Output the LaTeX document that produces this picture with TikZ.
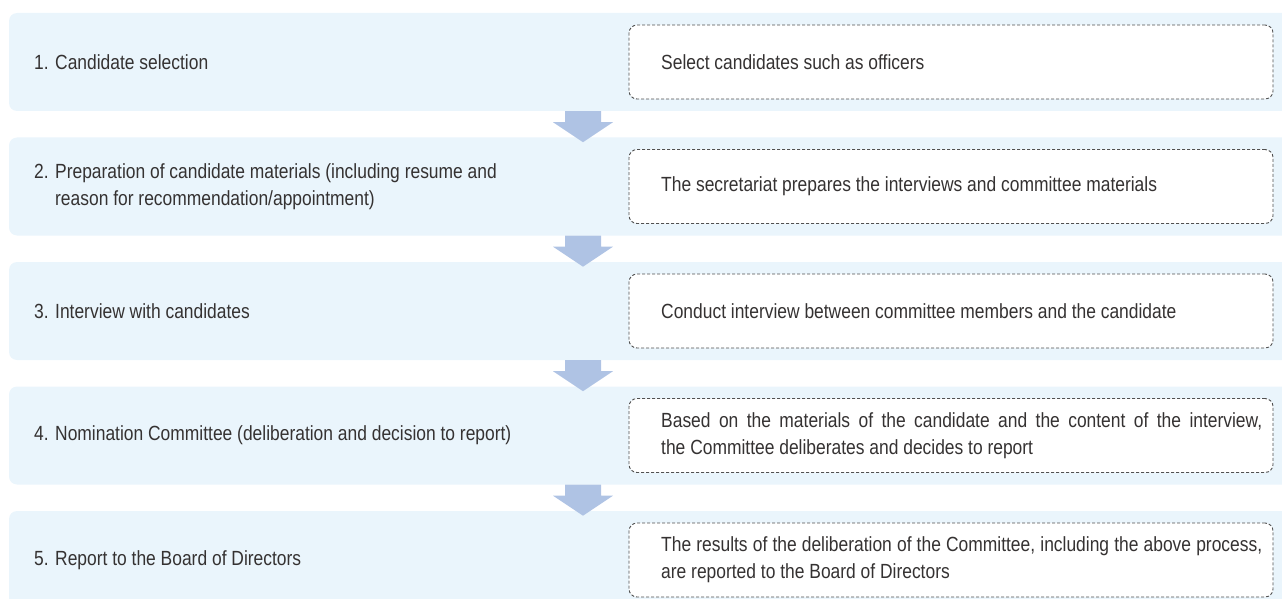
\documentclass[tikz,border=0pt]{standalone}
\usepackage{fontspec}
\setmainfont{Liberation Sans}[FakeStretch=0.85]
\usetikzlibrary{calc}
\definecolor{panelc}{HTML}{EAF5FC}
\definecolor{arrowc}{HTML}{AFC3E4}
\definecolor{txtc}{HTML}{353232}
\definecolor{dashc}{HTML}{505050}
\tikzset{
  panel/.style={fill=panelc, draw=none, rounded corners=8pt, minimum width=1291pt, minimum height=98pt, inner sep=0pt},
  notebox/.style={fill=white, draw=dashc, line width=0.9pt, dash pattern=on 3pt off 2pt, rounded corners=8pt, minimum width=644pt, minimum height=74pt, inner sep=0pt},
  lefttxt/.style={anchor=west, inner sep=0pt, align=left, text=txtc, font=\fontsize{20.5}{27}\selectfont},
  righttxt/.style={anchor=west, inner sep=0pt, text width=601pt, align=justify, text=txtc, font=\fontsize{20.5}{27}\selectfont},
  flowarrow/.style={fill=arrowc, draw=none}
}
\begin{document}
\begin{tikzpicture}[x=1pt, y=-1pt]
\useasboundingbox (0,0) rectangle (1282,599);
% panels
\foreach \i in {1,...,5}{
  \node[panel] (p\i) at (654.5, {62+124.5*(\i-1)}) {};
}
% arrows between panels
\foreach \i in {1,...,4}{
  \coordinate (a\i) at ($(p\i.south)+(-71.5,0)$);
  \fill[flowarrow] ($(a\i)+(-18,0)$) -- ++(36,0) -- ++(0,11) -- ++(12,0) -- ++(-30,20) -- ++(-30,-20) -- ++(12,0) -- cycle;
}
% dashed boxes
\foreach \i in {1,...,5}{
  \node[notebox] (b\i) at (951, {62+124.5*(\i-1)}) {};
}
% left texts
\node[lefttxt] (l1) at (34, 62) {1. Candidate selection};
\node[lefttxt] (l2) at (34, 186.5) {2. Preparation of candidate materials (including resume and\\\hphantom{2. }reason for recommendation/appointment)};
\node[lefttxt] (l3) at (34, 311) {3. Interview with candidates};
\node[lefttxt] (l4) at (34, 435.5) {4. Nomination Committee (deliberation and decision to report)};
\node[lefttxt] (l5) at (34, 560) {5. Report to the Board of Directors};
% right texts
\node[righttxt] (r1) at (661, 62) {Select candidates such as officers};
\node[righttxt] (r2) at (661, 186.5) {The secretariat prepares the interviews and committee materials};
\node[righttxt] (r3) at (661, 311) {Conduct interview between committee members and the candidate};
\node[righttxt] (r4) at (661, 435.5) {Based on the materials of the candidate and the content of the interview,\linebreak the Committee deliberates and decides to report};
\node[righttxt] (r5) at (661, 560) {The results of the deliberation of the Committee, including the above process,\linebreak are reported to the Board of Directors};
\end{tikzpicture}
\end{document}
